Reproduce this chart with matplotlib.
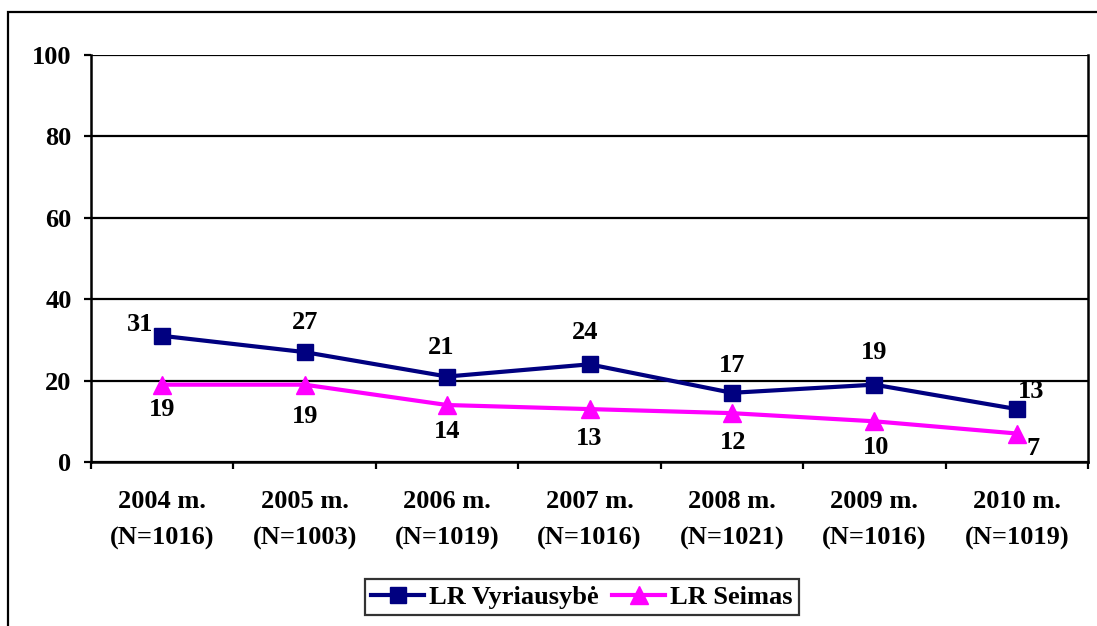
import numpy as np
import matplotlib
matplotlib.use("Agg")
import matplotlib.pyplot as plt
from matplotlib.patches import Rectangle

# ---- data ----
years = ["2004 m.", "2005 m.", "2006 m.", "2007 m.", "2008 m.", "2009 m.", "2010 m."]
samples = ["(N=1016)", "(N=1003)", "(N=1019)", "(N=1016)", "(N=1021)", "(N=1016)", "(N=1019)"]
vyriausybe = [31, 27, 21, 24, 17, 19, 13]
seimas = [19, 19, 14, 13, 12, 10, 7]

# label offsets in points (style only)
off_v = [(-16, 8), (0, 21), (-4, 21), (-3, 23), (0, 20), (0, 23), (10, 13)]
off_s = [(0, -18), (0, -23), (0, -19), (0, -21), (1, -21), (1, -19), (12, -11)]

plt.rcParams['font.family'] = ['Liberation Serif', 'DejaVu Serif']
plt.rcParams['font.weight'] = 'bold'
FS = 19

fig = plt.figure(figsize=(10.97, 6.26), dpi=100)
ax = fig.add_axes([91 / 1097, 1 - 462 / 626, (1088 - 91) / 1097, (462 - 55) / 626])

# outer frame of the chart (only left and top edges visible)
fig.patches.append(Rectangle((8 / 1097, -0.5), 3.0, 1.5 - 12 / 626, transform=fig.transFigure,
                             fill=False, edgecolor='black', linewidth=1.6, zorder=0))

x = np.arange(len(years))
ax.plot(x, vyriausybe, color='#000080', linewidth=3, marker='s', markersize=12,
        label='LR Vyriausybė', zorder=4, clip_on=False)
ax.plot(x, seimas, color='#FF00FF', linewidth=3, marker='^', markersize=13,
        label='LR Seimas', zorder=3, clip_on=False)

for i, v in enumerate(vyriausybe):
    ax.annotate(str(v), (x[i], v), xytext=off_v[i], textcoords='offset points',
                ha='center', va='center', fontsize=FS, fontweight='bold')
for i, v in enumerate(seimas):
    ax.annotate(str(v), (x[i], v), xytext=off_s[i], textcoords='offset points',
                ha='center', va='center', fontsize=FS, fontweight='bold')

ax.set_xlim(-0.5, len(years) - 0.5)
ax.set_ylim(0, 100)
ax.set_yticks([0, 20, 40, 60, 80, 100])
ax.yaxis.grid(True, color='black', linewidth=1.6)
ax.set_axisbelow(True)

# category ticks between groups, labels centred
ax.set_xticks(np.arange(-0.5, len(years), 1.0))
ax.set_xticklabels([])
ax.set_xticks(x, minor=True)
ax.set_xticklabels([f"{y}\n{n}" for y, n in zip(years, samples)], minor=True,
                   fontsize=FS, fontweight='bold', linespacing=1.75)
ax.tick_params(axis='x', which='minor', length=0, pad=20)
ax.tick_params(axis='x', which='major', length=5, width=1.6, direction='out')
ax.tick_params(axis='y', length=5, width=1.6, direction='out', pad=9, labelsize=FS)
for lab in ax.get_yticklabels():
    lab.set_fontweight('bold')

for side in ['left', 'right', 'bottom']:
    ax.spines[side].set_linewidth(1.8)
ax.spines['top'].set_visible(False)

leg = fig.legend(loc='center', bbox_to_anchor=(582 / 1097, 1 - 597 / 626), ncol=2,
                 frameon=True, fancybox=False, edgecolor='black',
                 handlelength=2.0, handletextpad=0.2, columnspacing=0.5,
                 borderpad=0.25, prop={'weight': 'bold', 'size': FS})
leg.get_frame().set_linewidth(1.6)

fig.savefig('out.png', dpi=100)
